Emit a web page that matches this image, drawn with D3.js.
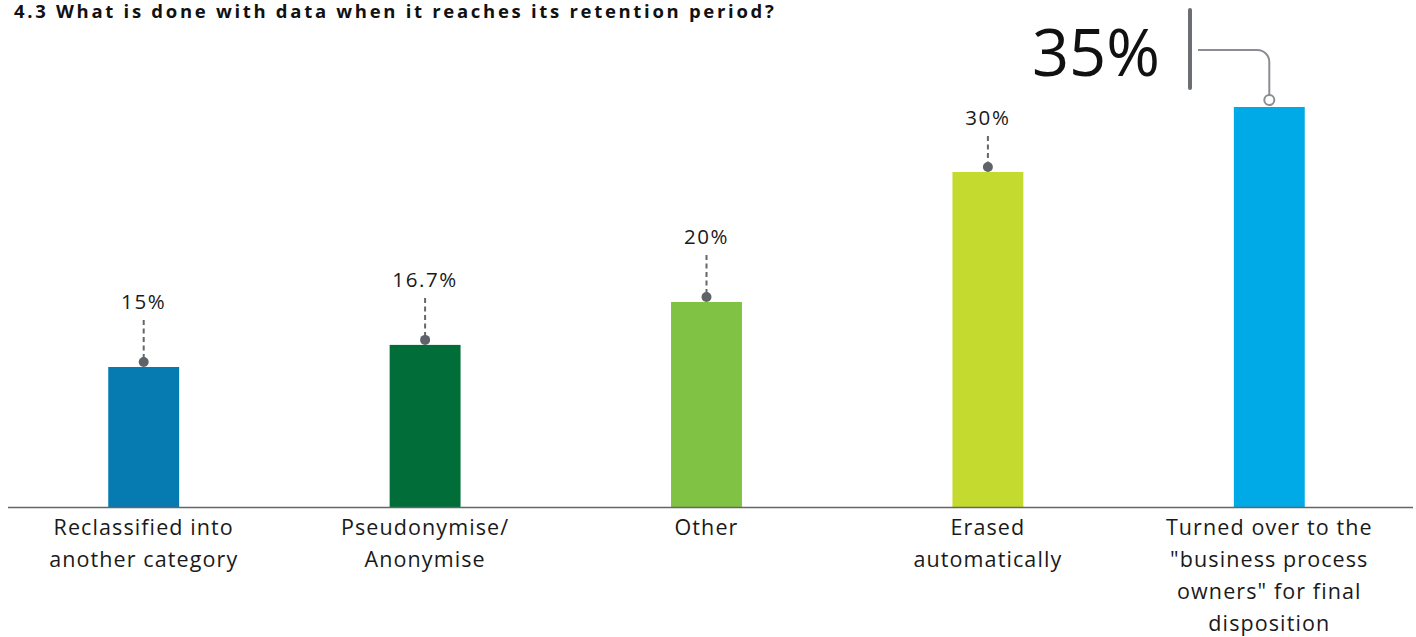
<!DOCTYPE html>
<html>
<head>
<meta charset="utf-8">
<script src="https://cdn.jsdelivr.net/npm/d3@7"></script>
<style>
  html, body { margin: 0; padding: 0; background: #fff; }
  svg { display: block; font-family: "Open Sans", sans-serif; }
</style>
</head>
<body>
<svg id="chart" width="1416" height="637"></svg>
<script>
// Survey answers: what happens to data at the end of its retention period
const categories = [
  ["Reclassified into", "another category"],
  ["Pseudonymise/", "Anonymise"],
  ["Other"],
  ["Erased", "automatically"],
  ["Turned over to the", "\"business process", "owners\" for final", "disposition"]
];
const values = [15, 16.7, 20, 30, 35];
const valueLabels = ["15%", "16.7%", "20%", "30%", "35%"];
const barColors = ["#067bb1", "#016e39", "#80c243", "#c5da2e", "#00aae6"];
const title = "4.3 What is done with data when it reaches its retention period?";

const svg = d3.select("#chart");
const baseY = 507;

const x = d3.scaleBand()
  .domain(d3.range(values.length))
  .range([3, 1410])
  .paddingInner(0.748)
  .paddingOuter(0.374);

const y = d3.scaleLinear()
  .domain([4.23, 35])
  .range([baseY, 107]);

// Title
svg.append("text")
  .attr("x", 14).attr("y", 18)
  .attr("font-size", 18.5).attr("font-weight", 700)
  .attr("letter-spacing", 2.7)
  .attr("fill", "#111")
  .text(title);

// Bars
const idx = d3.range(values.length);
svg.append("g").selectAll("rect")
  .data(idx)
  .join("rect")
  .attr("x", i => x(i))
  .attr("width", x.bandwidth())
  .attr("y", i => y(values[i]))
  .attr("height", i => baseY - y(values[i]))
  .attr("fill", i => barColors[i]);

// Baseline
svg.append("line")
  .attr("x1", 8).attr("x2", 1413)
  .attr("y1", baseY + 0.5).attr("y2", baseY + 0.5)
  .attr("stroke", "#63666a").attr("stroke-width", 1.6);

// Category labels
const catG = svg.append("g");
idx.forEach(i => {
  const t = catG.append("text")
    .attr("x", x(i) + x.bandwidth() / 2)
    .attr("y", 535)
    .attr("text-anchor", "middle")
    .attr("font-size", 21.5)
    .attr("letter-spacing", 1.1)
    .attr("fill", "#1a1a1a");
  categories[i].forEach((line, k) => {
    t.append("tspan")
      .attr("x", x(i) + x.bandwidth() / 2)
      .attr("dy", k === 0 ? 0 : 32)
      .text(line);
  });
});

// Value callouts with dashed leaders (all but the top answer)
const last = values.length - 1;
const cal = svg.append("g");
idx.slice(0, last).forEach(i => {
  const cx = x(i) + x.bandwidth() / 2;
  const top = y(values[i]);
  const ly = Math.max(top - 58, 125);
  cal.append("text")
    .attr("x", cx).attr("y", ly)
    .attr("text-anchor", "middle")
    .attr("font-size", 20.5).attr("letter-spacing", 1.6)
    .attr("fill", "#1a1a1a")
    .text(valueLabels[i]);
  cal.append("line")
    .attr("x1", cx).attr("x2", cx)
    .attr("y1", ly + 11).attr("y2", top - 5)
    .attr("stroke", "#63666a").attr("stroke-width", 2)
    .attr("stroke-dasharray", "5,3.5");
  cal.append("circle")
    .attr("cx", cx).attr("cy", top - 5).attr("r", 5)
    .attr("fill", "#5f6369");
});

// Highlighted top answer
{
  const cx = x(last) + x.bandwidth() / 2;
  const top = y(values[last]);
  svg.append("text")
    .attr("x", 1160).attr("y", 76)
    .attr("text-anchor", "end")
    .attr("font-size", 65)
    .attr("fill", "#111")
    .text(valueLabels[last]);
  svg.append("line")
    .attr("x1", 1190).attr("x2", 1190)
    .attr("y1", 10).attr("y2", 88)
    .attr("stroke", "#6b6e73").attr("stroke-width", 4)
    .attr("stroke-linecap", "round");
  const r = 12;
  const hy = 50;
  const path = d3.path();
  path.moveTo(1198, hy);
  path.lineTo(cx - r, hy);
  path.arcTo(cx, hy, cx, hy + r, r);
  path.lineTo(cx, top - 12);
  svg.append("path")
    .attr("d", path.toString())
    .attr("fill", "none")
    .attr("stroke", "#8a8d91").attr("stroke-width", 2);
  svg.append("circle")
    .attr("cx", cx).attr("cy", top - 7).attr("r", 5)
    .attr("fill", "#fff")
    .attr("stroke", "#8a8d91").attr("stroke-width", 2);
}
</script>
</body>
</html>
